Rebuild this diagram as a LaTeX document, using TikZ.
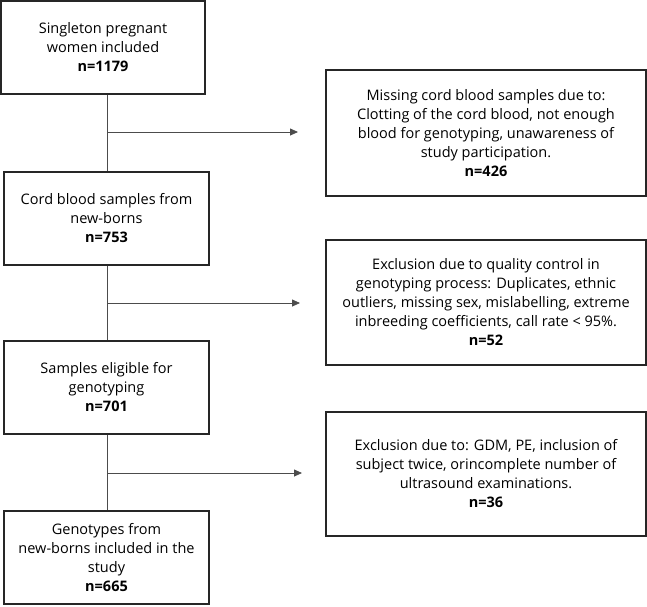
\documentclass[tikz,border=0pt]{standalone}
\usepackage{fontspec}
\setmainfont{Open Sans}
\usetikzlibrary{arrows.meta}
\begin{document}
\begin{tikzpicture}[x=1pt,y=-1pt,
  box/.style={draw=black!85,line width=1.3pt,align=center,inner sep=0pt,
    font=\fontsize{14.5}{19}\selectfont},
  conn/.style={draw=black!70,line width=0.8pt},
  arr/.style={conn,-{Triangle[length=8pt,width=7pt]}}]
\useasboundingbox (0,0) rectangle (647,606);
\node[box,minimum width=204pt,minimum height=93pt] (b1) at (103,47.5)
  {Singleton pregnant\\women included\\\textbf{n=1179}};
\node[box,minimum width=205pt,minimum height=93pt] (b2) at (106.5,218.5)
  {Cord blood samples from\\new-borns\\\textbf{n=753}};
\node[box,minimum width=205pt,minimum height=93pt] (b3) at (106.5,387.5)
  {Samples eligible for\\genotyping\\\textbf{n=701}};
\node[box,minimum width=205pt,minimum height=93pt] (b4) at (106.5,557.5)
  {Genotypes from\\new-borns included in the\\study\\\textbf{n=665}};
\node[box,minimum width=320pt,minimum height=126pt] (r1) at (486,133)
  {Missing cord blood samples due to:\\Clotting of the cord blood, not enough\\blood for genotyping, unawareness of\\study participation.\\\textbf{n=426}};
\node[box,minimum width=320pt,minimum height=125pt] (r2) at (486,302.5)
  {Exclusion due to quality control in\\genotyping process: Duplicates, ethnic\\outliers, missing sex, mislabelling, extreme\\inbreeding coefficients, call rate < 95\%.\\\textbf{n=52}};
\node[box,minimum width=320pt,minimum height=124pt] (r3) at (486,474)
  {Exclusion due to: GDM, PE, inclusion of\\subject twice, orincomplete number of\\ultrasound examinations.\\\textbf{n=36}};
\coordinate (j1) at (107,132);
\coordinate (j2) at (107,303);
\coordinate (j3) at (107,473);
\coordinate (e1) at (298,132);
\coordinate (e2) at (300,303);
\coordinate (e3) at (302,473);
\draw[conn] (b1.south -| j1) -- (b2.north -| j1);
\draw[conn] (b2.south -| j1) -- (b3.north -| j1);
\draw[conn] (b3.south -| j1) -- (b4.north -| j1);
\draw[arr] (j1) -- (e1);
\draw[arr] (j2) -- (e2);
\draw[arr] (j3) -- (e3);
\end{tikzpicture}
\end{document}
